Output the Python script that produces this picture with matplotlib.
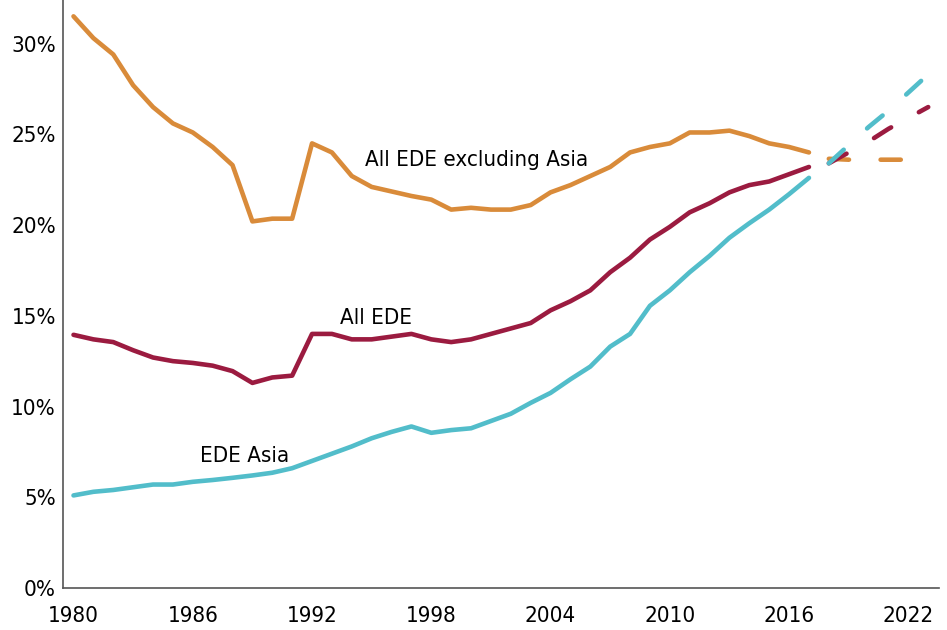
import matplotlib.pyplot as plt
import numpy as np

years = np.arange(1980, 2018)
proj_years = np.arange(2018, 2024)

ede_ex_asia = [31.5, 30.3, 29.4, 27.7, 26.5, 25.6, 25.1, 24.3, 23.3, 20.2,
               20.35, 20.35, 24.5, 24.0, 22.7, 22.1, 21.85, 21.6, 21.4, 20.85,
               20.95, 20.85, 20.85, 21.1, 21.8, 22.2, 22.7, 23.2, 24.0, 24.3,
               24.5, 25.1, 25.1, 25.2, 24.9, 24.5, 24.3, 24.0]
all_ede = [13.95, 13.7, 13.55, 13.1, 12.7, 12.5, 12.4, 12.25, 11.95, 11.3,
           11.6, 11.7, 14.0, 14.0, 13.7, 13.7, 13.85, 14.0, 13.7, 13.55,
           13.7, 14.0, 14.3, 14.6, 15.3, 15.8, 16.4, 17.4, 18.2, 19.2,
           19.9, 20.7, 21.2, 21.8, 22.2, 22.4, 22.8, 23.2]
ede_asia = [5.1, 5.3, 5.4, 5.55, 5.7, 5.7, 5.85, 5.95, 6.07, 6.2,
            6.35, 6.6, 7.0, 7.4, 7.8, 8.25, 8.6, 8.9, 8.55, 8.7,
            8.8, 9.2, 9.6, 10.2, 10.75, 11.5, 12.2, 13.3, 14.0, 15.55,
            16.4, 17.4, 18.3, 19.3, 20.1, 20.85, 21.7, 22.6]

proj_ex_asia = [23.65, 23.6, 23.6, 23.6, 23.6, 23.6]
proj_all = [23.4, 24.0, 24.6, 25.3, 25.9, 26.5]
proj_asia = [23.4, 24.4, 25.4, 26.3, 27.3, 28.3]

orange = "#D98B3A"
maroon = "#9B1B40"
teal = "#52BDCA"

plt.rcParams['font.family'] = ['DejaVu Sans']
plt.rcParams['font.stretch'] = 'condensed'

fig = plt.figure(figsize=(9.47, 6.3), dpi=100)
ax = fig.add_axes([0.0665, 0.0667, 0.925, 0.9333])

lw = 3.3
for y, c in [(ede_ex_asia, orange), (all_ede, maroon), (ede_asia, teal)]:
    ax.plot(years, y, color=c, lw=lw, solid_capstyle='round', solid_joinstyle='round')
for y, c in [(proj_ex_asia, orange), (proj_all, maroon), (proj_asia, teal)]:
    ax.plot(proj_years, y, color=c, lw=lw, dashes=(4.4, 6.9), dash_capstyle='round')

fs = 16
ax.text(2000.3, 23.6, "All EDE excluding Asia", fontsize=fs, ha='center', va='center')
ax.text(1995.2, 14.9, "All EDE", fontsize=fs, ha='center', va='center')
ax.text(1988.6, 7.3, "EDE Asia", fontsize=fs, ha='center', va='center')

ax.set_xlim(1979.47, 2023.54)
ax.set_ylim(0, 32.4)
ax.set_xticks(np.arange(1980, 2023, 6))
ax.set_yticks(np.arange(0, 31, 5))
ax.set_yticklabels([f"{v}%" for v in range(0, 31, 5)])
ax.tick_params(length=0, labelsize=fs)
ax.tick_params(axis='x', pad=13)
ax.tick_params(axis='y', pad=5)
for s in ['top', 'right']:
    ax.spines[s].set_visible(False)
for s in ['left', 'bottom']:
    ax.spines[s].set_color('#555555')
    ax.spines[s].set_linewidth(1.2)

fig.savefig("out.png", dpi=100)
